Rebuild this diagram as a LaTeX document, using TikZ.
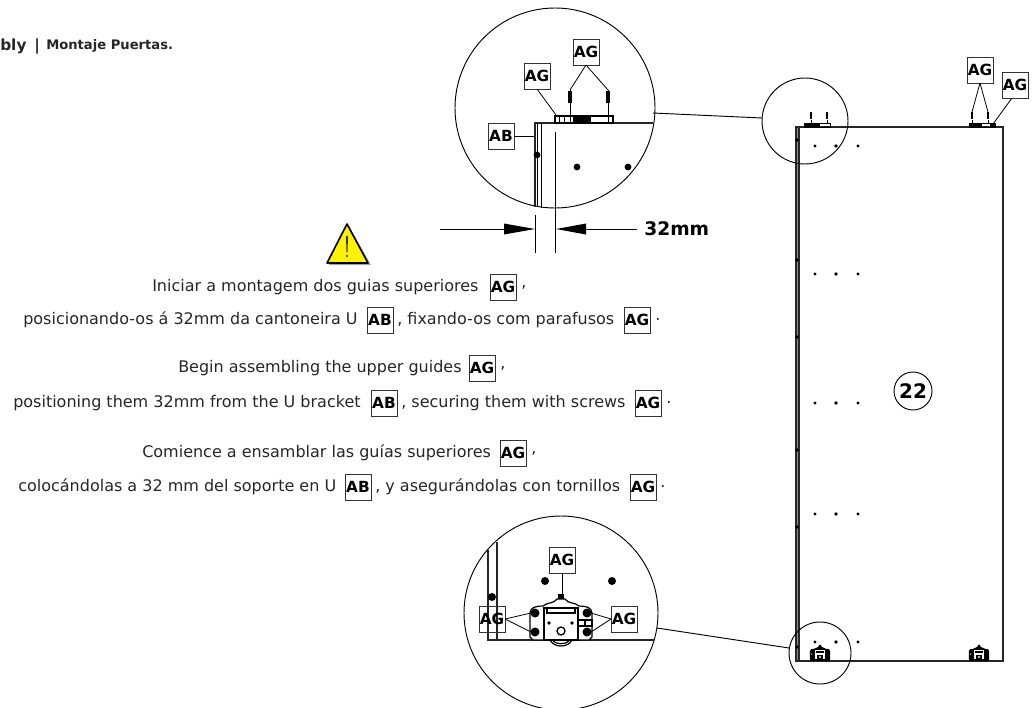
\documentclass[tikz,border=0pt]{standalone}
\usepackage{fontspec}
\setmainfont{DejaVu Sans}
\begin{document}
\begin{tikzpicture}[x=0.75pt,y=-0.75pt]
  \tikzset{TagStyle/.style    = {shape          = rectangle,
                                 draw           = black!80,
                                 line width     = 0.7pt,
                                 text           = black,
                                 font           = \fontsize{11.5}{12}\selectfont\bfseries,
                                 inner sep      = 0pt,
                                 outer sep      = 0pt,
                                 minimum width  = 19.5pt,
                                 minimum height = 19.5pt}}
  \tikzset{LineStyle/.style   = {shape          = rectangle,
                                 anchor         = west,
                                 text           = black!85,
                                 font           = \fontsize{12}{14}\selectfont,
                                 inner sep      = 0pt}}
  \tikzset{LeaderStyle/.style = {line width     = 0.6pt}}
  \tikzset{LensStyle/.style   = {line width     = 0.7pt}}
  \tikzset{PartStyle/.style   = {line width     = 1.1pt,
                                 black!85}}
  \tikzset{ArrowStyle/.style  = {fill           = black}}
  \tikzset{RollerBlock/.pic   = {
    \draw[fill=white] (-31,-3) -- (-31,-27) .. controls (-31,-33) and (-24,-34) .. (-18,-34)
      .. controls (-14,-38) and (-7,-36) .. (-4,-41) -- (4,-41)
      .. controls (7,-36) and (14,-38) .. (18,-34)
      .. controls (24,-34) and (31,-33) .. (31,-27) -- (31,-3) -- (28,0) -- (-28,0) -- cycle;
    \draw[fill=white] (-17,0) -- (-17,-32) -- (17,-32) -- (17,0) -- cycle;
    \draw (-14,-32) -- (-14,-27) -- (14,-27) -- (14,-32);
    \draw (17,-20) rectangle (31,-14);
    \draw (24,-20) -- (24,-14);
    \fill (-3,-46) rectangle (3,-41);
    \fill (-26,-27) circle (4.5);
    \fill (26,-27) circle (4.5);
    \fill (-26,-8) circle (4.5);
    \fill (26,-8) circle (4.5);
    \fill (-12,-17) circle (1.8);
    \fill (11,-17) circle (1.8);
    \draw[line width=1pt] (0,-9) circle (4);
    \draw (-11,0) .. controls (-7,8) and (7,8) .. (11,0);
    \draw (-9,0) .. controls (-5,5) and (5,5) .. (9,0);
  }}
  \tikzset{RollerTiny/.pic    = {
    \fill (-31,-3) -- (-31,-27) .. controls (-31,-33) and (-24,-34) .. (-18,-34)
      .. controls (-14,-38) and (-7,-36) .. (-4,-41) -- (-3,-46) -- (3,-46) -- (4,-41)
      .. controls (7,-36) and (14,-38) .. (18,-34)
      .. controls (24,-34) and (31,-33) .. (31,-27) -- (31,-3) -- (28,3) -- (-28,3) -- cycle;
    \fill[white] (-14,-2) rectangle (14,-30);
    \fill (-11,-26) rectangle (11,-20);
    \fill (-8,-16) rectangle (8,-1);
    \fill[white] (0,-9) circle (4);
    \fill (0,-9) circle (2);
    \fill[white] (-26,-18) circle (2);
  }}

\useasboundingbox (0,0) rectangle (1035,707);

% whole door
\coordinate (P1) at (796,127);
\coordinate (P2) at (1003,127);
\coordinate (P3) at (1003,661);
\coordinate (P4) at (796,661);
\coordinate (P5) at (799,127);
\coordinate (P6) at (799,661);

\draw[PartStyle,fill=black!45] (P1) -- (P5) -- (P6) -- (P4) -- cycle;
\draw[PartStyle] (P5) -- (P2) -- (P3) -- (P6);

\fill (797,140) circle (1.8);
\fill (797,260) circle (1.8);
\fill (797,337) circle (1.8);
\fill (797,450) circle (1.8);
\fill (797,527) circle (1.8);
\fill (797,647) circle (1.8);
\fill (815,146) circle (1.7);
\fill (836,146) circle (1.9);
\fill (858,146) circle (1.7);
\fill (815,274) circle (1.7);
\fill (836,274) circle (1.9);
\fill (858,274) circle (1.7);
\fill (815,403) circle (1.7);
\fill (836,403) circle (1.9);
\fill (858,403) circle (1.7);
\fill (815,514) circle (1.7);
\fill (836,514) circle (1.9);
\fill (858,514) circle (1.7);
\fill (815,642) circle (1.7);
\fill (836,642) circle (1.9);
\fill (858,642) circle (1.7);

% guides on the door
\draw[line width=0.6pt] (804,123) rectangle (830,127);
\fill (804,123) rectangle (820,127);
\draw[line width=0.6pt] (969,123) rectangle (995,127);
\fill (969,123) rectangle (982,127);
\fill (990,123) rectangle (995,127);
\draw[LeaderStyle] (811,120) -- (811,123);
\draw[LeaderStyle] (827,120) -- (827,123);
\draw[LeaderStyle] (972,120) -- (972,123);
\draw[LeaderStyle] (988,120) -- (988,123);
\draw[line width=2pt] (811,112) -- (811,119);
\draw[line width=2pt] (827,112) -- (827,119);
\draw[line width=2pt] (972,112) -- (972,119);
\draw[line width=2pt] (988,112) -- (988,119);

\pic[scale=0.33] at (820,660) {RollerTiny};
\pic[scale=0.33] at (979,660) {RollerTiny};

\coordinate (S1) at (972,112);
\coordinate (S2) at (988,112);
\coordinate (S3) at (993,124);
\node[TagStyle] (DoorAG1) at (980,70) {AG};
\node[TagStyle] (DoorAG2) at (1015,85) {AG};
\draw[LeaderStyle] (DoorAG1.south) -- (S1);
\draw[LeaderStyle] (DoorAG1.south) -- (S2);
\draw[LeaderStyle] (DoorAG2.south) ++(-3,0) -- (S3);

\node[shape=circle,draw,line width=0.7pt,inner sep=0pt,minimum size=28.5pt,
      font=\fontsize{15}{16}\selectfont\bfseries] (Number) at (913,391) {22};

% top detail
\coordinate (TopBig) at (555,108);
\coordinate (TopSmall) at (805,121);
\coordinate (T1) at (653,113);
\coordinate (T2) at (762,118);
\draw[LensStyle] (TopBig) circle (100);
\draw[LensStyle] (TopSmall) circle (43);
\draw[LensStyle] (T1) -- (T2);

\draw[PartStyle] (535,207) -- (535,123) -- (653,123);
\draw[line width=0.6pt] (537,123) -- (537,207);
\draw[line width=0.9pt] (541.5,123) -- (541.5,208);
\draw[line width=0.7pt] (555.5,132) -- (555.5,253);
\fill (537,155) circle (3.4);
\fill (577,167) circle (3.4);
\fill (628,167) circle (3.4);

\draw[line width=0.8pt] (555,116) rectangle (613,123);
\fill (573,116) rectangle (591,123);
\draw[line width=0.7pt] (559,116) -- (559,123);
\draw[line width=0.7pt] (564,116) -- (564,123);
\draw[line width=0.7pt] (570,116) -- (570,123);
\draw[line width=0.7pt] (608,116) -- (608,123);
\draw[LeaderStyle] (570,116) -- (570,90);
\draw[LeaderStyle] (608,116) -- (608,90);
\draw[line width=2.8pt] (570,91) -- (570,103);
\draw[line width=2.8pt] (608,91) -- (608,103);

\coordinate (U1) at (570,90);
\coordinate (U2) at (608,90);
\coordinate (U3) at (556,115);
\coordinate (U4) at (535,136);
\node[TagStyle] (TopAG1) at (586,52) {AG};
\node[TagStyle] (TopAG2) at (537,76) {AG};
\node[TagStyle] (TopAB) at (501,136) {AB};
\draw[LeaderStyle] (TopAG1.south) -- (U1);
\draw[LeaderStyle] (TopAG1.south) -- (U2);
\draw[LeaderStyle] (TopAG2.south) -- (U3);
\draw[LeaderStyle] (TopAB.east) -- (U4);

% 32mm
\draw[LeaderStyle] (535,215) -- (535,253);
\coordinate (D1) at (440,229);
\coordinate (D2) at (504,229);
\coordinate (D3) at (637,229);
\coordinate (D4) at (586,229);
\draw[LeaderStyle] (D1) -- (D2);
\draw[LeaderStyle] (D3) -- (D4);
\fill[ArrowStyle] (504,223.5) -- (535,229) -- (504,234.5) -- cycle;
\fill[ArrowStyle] (586,223.5) -- (556,229) -- (586,234.5) -- cycle;
\node[anchor=west,inner sep=0pt,font=\fontsize{14}{16}\selectfont\bfseries] (Dim) at (644,229) {32mm};

% warning sign
\fill[black!35] (329,265) -- (349,226) -- (371,265) -- cycle;
\draw[line width=1.2pt,line join=round,fill=yellow] (347,224) -- (327,263) -- (368,263) -- cycle;
\fill[black!80] (346,236) -- (348,236) -- (347.5,252) -- (346.5,252) -- cycle;
\fill[black!80] (347,256) circle (1.2);

% title
\node[LineStyle,font=\fontsize{11.5}{13}\selectfont\bfseries] (TitleA) at (0,46) {bly\hspace{6pt}|};
\node[LineStyle,font=\fontsize{9.85}{12}\selectfont\bfseries] (TitleB) at (46,46) {Montaje Puertas.};

% text
\node[LineStyle] (Pt1) at (152,287) {Iniciar a montagem dos guias superiores};
\node[TagStyle] (Pt1AG) at (503,287) {AG};
\node[LineStyle] (Pt1End) at (521,287) {,};
\node[LineStyle] (Pt2) at (23,320) {posicionando-os á 32mm da cantoneira U};
\node[TagStyle] (Pt2AB) at (380,320) {AB};
\node[LineStyle] (Pt2Mid) at (397,320) {, fixando-os com parafusos};
\node[TagStyle] (Pt2AG) at (637,320) {AG};
\node[LineStyle] (Pt2End) at (655,320) {.};

\node[LineStyle] (En1) at (178,368) {Begin assembling the upper guides};
\node[TagStyle] (En1AG) at (482,368) {AG};
\node[LineStyle] (En1End) at (500,368) {,};
\node[LineStyle] (En2) at (13,403) {positioning them 32mm from the U bracket};
\node[TagStyle] (En2AB) at (384,403) {AB};
\node[LineStyle] (En2Mid) at (401,403) {, securing them with screws};
\node[TagStyle] (En2AG) at (648,403) {AG};
\node[LineStyle] (En2End) at (666,403) {.};

\node[LineStyle] (Es1) at (142,453) {Comience a ensamblar las guías superiores};
\node[TagStyle] (Es1AG) at (513,453) {AG};
\node[LineStyle] (Es1End) at (531,453) {,};
\node[LineStyle] (Es2) at (18,487) {colocándolas a 32 mm del soporte en U};
\node[TagStyle] (Es2AB) at (358,487) {AB};
\node[LineStyle] (Es2Mid) at (375,487) {, y asegurándolas con tornillos};
\node[TagStyle] (Es2AG) at (643,487) {AG};
\node[LineStyle] (Es2End) at (660,487) {.};

% bottom detail
\coordinate (LowBig) at (561,613);
\coordinate (LowSmall) at (820,653);
\coordinate (L1) at (657,628);
\coordinate (L2) at (789,648);
\draw[LensStyle] (LowBig) circle (97);
\draw[LensStyle] (LowSmall) circle (31);
\draw[LensStyle] (L1) -- (L2);

\draw[PartStyle] (488,550) -- (488,640) -- (654,640);
\draw[PartStyle] (497,542) -- (497,640);
\fill (492,597) circle (4);
\fill (545,581) circle (4);
\fill (612,581) circle (4);

\pic[line width=0.9pt] at (561,640) {RollerBlock};

\coordinate (B1) at (562,594);
\coordinate (B2) at (531,613);
\coordinate (B3) at (531,632);
\coordinate (B4) at (591,613);
\coordinate (B5) at (591,632);
\node[TagStyle] (LowAG1) at (562,560) {AG};
\node[TagStyle] (LowAG2) at (492,619) {AG};
\node[TagStyle] (LowAG3) at (624,619) {AG};
\draw[LeaderStyle] (LowAG1.south) -- (B1);
\draw[LeaderStyle] (LowAG2.east) -- (B2);
\draw[LeaderStyle] (LowAG2.east) -- (B3);
\draw[LeaderStyle] (LowAG3.west) -- (B4);
\draw[LeaderStyle] (LowAG3.west) -- (B5);
\end{tikzpicture}
\end{document}
